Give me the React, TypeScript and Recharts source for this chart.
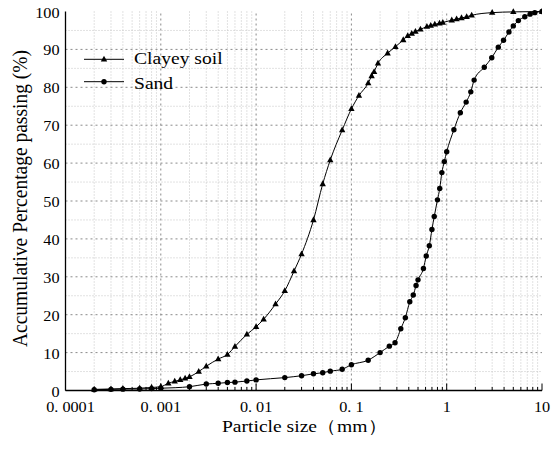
import React from 'react';
import { LineChart, Line, XAxis, YAxis, ReferenceLine, Legend } from 'recharts';

// ---- data ----
const clayeySize = [0.0002, 0.0003, 0.0004, 0.0006, 0.0008, 0.001, 0.0012, 0.0014, 0.0016, 0.0018, 0.002, 0.0025, 0.003, 0.004, 0.005, 0.006, 0.008, 0.01, 0.012, 0.016, 0.02, 0.025, 0.03, 0.04, 0.05, 0.06, 0.08, 0.1, 0.12, 0.15, 0.163, 0.173, 0.19, 0.24, 0.29, 0.35, 0.39, 0.43, 0.47, 0.53, 0.62, 0.68, 0.75, 0.84, 0.91, 1.13, 1.27, 1.43, 1.62, 1.83, 3.0, 5.0, 10];
const clayeyPassing = [0.3, 0.4, 0.5, 0.6, 0.8, 1.0, 1.9, 2.4, 2.8, 3.2, 3.6, 5.0, 6.4, 8.3, 9.5, 11.6, 14.8, 16.8, 18.8, 22.8, 26.3, 31.5, 36.0, 45.0, 54.5, 60.8, 68.7, 74.3, 77.8, 81.1, 83.0, 84.1, 86.3, 89.0, 90.7, 92.5, 93.6, 94.2, 94.7, 95.3, 96.0, 96.3, 96.6, 96.9, 97.1, 97.7, 98.0, 98.3, 98.6, 99.0, 99.7, 99.9, 100];

const sandSize = [0.0002, 0.0003, 0.0004, 0.0006, 0.0008, 0.001, 0.002, 0.003, 0.004, 0.005, 0.006, 0.008, 0.01, 0.02, 0.03, 0.04, 0.05, 0.06, 0.08, 0.1, 0.15, 0.2, 0.25, 0.287, 0.33, 0.368, 0.41, 0.446, 0.477, 0.5, 0.57, 0.61, 0.657, 0.70, 0.74, 0.80, 0.845, 0.89, 0.944, 1.0, 1.19, 1.39, 1.6, 1.79, 1.94, 2.48, 2.97, 3.48, 3.95, 4.5, 5.0, 5.65, 6.6, 7.5, 8.4, 10];
const sandPassing = [0.2, 0.3, 0.35, 0.4, 0.5, 0.6, 1.0, 1.7, 1.9, 2.1, 2.2, 2.5, 2.8, 3.4, 3.9, 4.4, 4.7, 5.1, 5.6, 6.8, 8.0, 10.0, 11.7, 12.6, 16.3, 19.2, 23.4, 25.2, 27.7, 29.2, 32.2, 35.5, 38.2, 42.5, 45.9, 50.3, 53.3, 57.5, 60.4, 63.0, 68.8, 73.3, 76.1, 78.8, 81.9, 85.3, 87.8, 90.6, 92.4, 94.6, 96.2, 97.6, 98.6, 99.3, 99.7, 100];

const seriesNames = ['Clayey soil', 'Sand'];

const xMajorTicks = [0.0001, 0.001, 0.01, 0.1, 1, 10];
const xTickLabels = ['0. 0001', '0. 001', '0. 01', '0. 1', '1', '10'];
const minorMultipliers = [2, 3, 4, 5, 6, 7, 8, 9];
const yMajorTicks = [0, 10, 20, 30, 40, 50, 60, 70, 80, 90, 100];
const yMinorTicks = [5, 15, 25, 35, 45, 55, 65, 75, 85, 95];

const xTitle = 'Particle size（mm）';
const yTitle = 'Accumulative Percentage passing (%)';

// ---- derived ----
const clayeyData = clayeySize.map((x, i) => ({ x, y: clayeyPassing[i] }));
const sandData = sandSize.map((x, i) => ({ x, y: sandPassing[i] }));
const xMinorTicks: number[] = [];
xMajorTicks.slice(0, -1).forEach((m) => minorMultipliers.forEach((k) => xMinorTicks.push(+(m * k).toPrecision(6))));
const xAllTicks = [...xMajorTicks, ...xMinorTicks].sort((a, b) => a - b);
const yRightTicks = [...yMajorTicks, ...yMinorTicks].sort((a, b) => a - b);

const FONT = 'Liberation Serif';
const SX = 1.12;

const majorIndex = (v: number) => xMajorTicks.findIndex((m) => Math.abs(m - v) / m < 1e-6);

const BottomTick = (props: any) => {
  const { x, y, payload } = props;
  const idx = majorIndex(payload.value);
  const major = idx >= 0;
  return (
    <g>
      <line x1={x} x2={x} y1={y} y2={y - (major ? 7 : 3.5)} stroke="#000" strokeWidth={1} />
      {major && (
        <text
          transform={`translate(${x + (idx === 0 ? 5 : 0)},${y + 21.2}) scale(${SX},1)`}
          textAnchor="middle"
          fontFamily={FONT}
          fontSize={14.5}
          fill="#000"
        >
          {xTickLabels[idx]}
        </text>
      )}
    </g>
  );
};

const TopTick = (props: any) => {
  const { x, y, payload } = props;
  const major = majorIndex(payload.value) >= 0;
  return <line x1={x} x2={x} y1={y} y2={y + (major ? 7 : 3.5)} stroke="#000" strokeWidth={1} />;
};

const LeftTick = (props: any) => {
  const { x, y, payload } = props;
  return (
    <text
      transform={`translate(${x - 6},${y + 6}) scale(${SX},1)`}
      textAnchor="end"
      fontFamily={FONT}
      fontSize={14.5}
      fill="#000"
    >
      {payload.value}
    </text>
  );
};

const RightTick = (props: any) => {
  const { x, y } = props;
  return <line x1={x} x2={x - 5} y1={y} y2={y} stroke="#000" strokeWidth={1.2} />;
};

const triPath = (cx: number, cy: number) => `M${cx},${cy - 3.6} L${cx + 3.2},${cy + 2.2} L${cx - 3.2},${cy + 2.2} Z`;

const TriangleDot = (props: any) => {
  const { cx, cy, index } = props;
  if (cx == null || cy == null) return <g key={`t-${index}`} />;
  return <path key={`t-${index}`} d={triPath(cx, cy)} fill="#000" />;
};

const CircleDot = (props: any) => {
  const { cx, cy, index } = props;
  if (cx == null || cy == null) return <g key={`c-${index}`} />;
  return <circle key={`c-${index}`} cx={cx} cy={cy} r={2.7} fill="#000" />;
};

const renderLegend = (props: any) => {
  const payload = (props.payload || []) as any[];
  return (
    <svg width={150} height={52} style={{ display: 'block', overflow: 'visible' }}>
      {seriesNames.map((n, i) => {
        const ly = i === 0 ? 13.3 : 35.7;
        const ty = i === 0 ? 18.3 : 43.3;
        const label = payload[i]?.value ?? n;
        return (
          <g key={n}>
            <line x1={6} x2={46} y1={ly} y2={ly} stroke="#000" strokeWidth={1} />
            {i === 0 ? <path d={triPath(26, ly)} fill="#000" /> : <circle cx={26} cy={ly} r={2.7} fill="#000" />}
            <text transform={`translate(56,${ty}) scale(${SX},1)`} fontFamily={FONT} fontSize={17.5} fill="#000">
              {label}
            </text>
          </g>
        );
      })}
    </svg>
  );
};

const XTitle = (props: any) => {
  const vb = props.viewBox || { x: 0, y: 0, width: 0 };
  return (
    <text
      transform={`translate(${vb.x + vb.width / 2 + 1},${vb.y + 41.2}) scale(${SX},1)`}
      textAnchor="middle"
      fontFamily={FONT}
      fontSize={17.5}
      fill="#000"
    >
      {xTitle}
    </text>
  );
};

const YTitle = (props: any) => {
  const vb = props.viewBox || { x: 0, y: 0, height: 0 };
  return (
    <text
      transform={`translate(${vb.x + 26.7},${vb.y + vb.height / 2 - 2.5}) rotate(-90) scale(1,${SX})`}
      textAnchor="middle"
      fontFamily={FONT}
      fontSize={19.5}
      fill="#000"
    >
      {yTitle}
    </text>
  );
};

export default function App() {
  return (
    <div style={{ position: 'absolute', left: 0, top: 0, width: 551, height: 450, fontFamily: FONT }}>
      <LineChart width={551} height={450} margin={{ top: 11.5, right: 9, bottom: 0, left: 0 }}>
        <XAxis
          dataKey="x"
          type="number"
          scale="log"
          domain={[xMajorTicks[0], xMajorTicks[xMajorTicks.length - 1]]}
          allowDataOverflow
          ticks={xAllTicks}
          interval={0}
          tickSize={0}
          tickMargin={0}
          tickLine={false}
          tick={<BottomTick />}
          height={59.5}
          axisLine={{ stroke: '#000', strokeWidth: 1.5 }}
          label={<XTitle />}
        />
        <XAxis
          xAxisId="top"
          orientation="top"
          type="number"
          scale="log"
          domain={[xMajorTicks[0], xMajorTicks[xMajorTicks.length - 1]]}
          allowDataOverflow
          ticks={xAllTicks}
          interval={0}
          tickSize={0}
          tickMargin={0}
          tickLine={false}
          tick={<TopTick />}
          height={0}
          axisLine={{ stroke: '#000', strokeWidth: 1.3 }}
        />
        <YAxis
          type="number"
          domain={[0, 100]}
          ticks={yMajorTicks}
          interval={0}
          width={65.5}
          tickSize={0}
          tickMargin={0}
          tickLine={false}
          tick={<LeftTick />}
          axisLine={{ stroke: '#000', strokeWidth: 1.3 }}
          label={<YTitle />}
        />
        <YAxis
          yAxisId="right"
          orientation="right"
          type="number"
          domain={[0, 100]}
          ticks={yRightTicks}
          interval={0}
          width={0}
          tickSize={0}
          tickMargin={0}
          tickLine={false}
          tick={<RightTick />}
          axisLine={{ stroke: '#000', strokeWidth: 2 }}
        />
        {xMinorTicks.map((v) => (
          <ReferenceLine key={`xm-${v}`} x={v} stroke="#c4c4c4" strokeWidth={1} strokeDasharray="1 2" />
        ))}
        {yMinorTicks.map((v) => (
          <ReferenceLine key={`ym-${v}`} y={v} stroke="#c4c4c4" strokeWidth={1} strokeDasharray="1 2" />
        ))}
        {xMajorTicks.slice(1, -1).map((v) => (
          <ReferenceLine key={`xM-${v}`} x={v} stroke="#8a8a8a" strokeWidth={1} strokeDasharray="2 3" />
        ))}
        {yMajorTicks.slice(1, -1).map((v) => (
          <ReferenceLine key={`yM-${v}`} y={v} stroke="#8a8a8a" strokeWidth={1} strokeDasharray="2 3" />
        ))}
        <Line
          data={clayeyData}
          dataKey="y"
          name={seriesNames[0]}
          type="monotone"
          stroke="#000"
          strokeWidth={1}
          dot={TriangleDot}
          activeDot={false}
          isAnimationActive={false}
        />
        <Line
          data={sandData}
          dataKey="y"
          name={seriesNames[1]}
          type="monotone"
          stroke="#000"
          strokeWidth={1}
          dot={CircleDot}
          activeDot={false}
          isAnimationActive={false}
        />
        <Legend
          layout="horizontal"
          verticalAlign="middle"
          align="center"
          content={renderLegend}
          wrapperStyle={{ left: 78, top: 46, width: 150, height: 52 }}
        />
      </LineChart>
    </div>
  );
}
